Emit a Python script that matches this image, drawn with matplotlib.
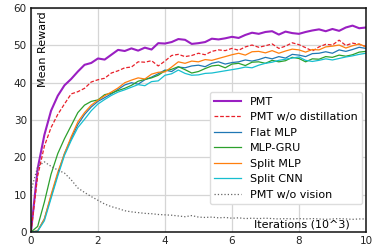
import matplotlib
matplotlib.use('Agg')
import matplotlib.pyplot as plt

# training iterations (x1000)
ITERS = [round(i * 0.2, 1) for i in range(51)]

PMT = [0, 17, 26, 32.5, 36.5, 39.3, 41, 43, 44.8, 45.3,
       46.5, 46.2, 47.5, 48.8, 48.5, 49.2, 48.6, 49.4, 48.9, 50.6,
       50.5, 50.9, 51.7, 51.5, 50.4, 50.6, 50.9, 51.8, 51.6, 51.9,
       52.3, 52.0, 52.8, 53.4, 53.1, 53.6, 53.8, 52.9, 53.7, 53.3,
       53.1, 53.6, 54.0, 54.3, 53.8, 54.4, 53.9, 54.8, 55.3, 54.6, 54.8]
PMT_NO_DISTILL = [0, 15, 23, 28, 31.5, 34.3, 37, 37.6, 38.5, 40.2,
                  40.8, 41.2, 42.6, 43.2, 44.0, 44.2, 45.6, 45.5, 45.9, 44.5,
                  45.8, 47.3, 47.6, 47.0, 47.3, 47.9, 47.5, 48.4, 48.8, 48.6,
                  49.2, 48.7, 49.6, 50.1, 49.5, 49.9, 50.4, 49.2, 49.8, 50.7,
                  50.2, 49.4, 48.5, 49.6, 50.3, 50.1, 51.4, 50.0, 50.6, 50.3, 49.7]
FLAT_MLP = [0, 0.3, 3.5, 9.5, 15.5, 21, 25, 28.8, 31.5, 33.5,
            35, 36, 37, 38.2, 39.4, 40.0, 39.6, 40.8, 41.5, 42.4,
            43.4, 43.0, 44.2, 44.0, 44.5, 44.7, 44.3, 45.2, 45.6, 45.0,
            45.4, 45.6, 46.1, 45.8, 46.2, 46.8, 46.4, 47.0, 46.6, 47.6,
            47.4, 47.0, 47.8, 47.9, 48.3, 47.9, 48.8, 48.4, 48.9, 49.5, 49.2]
MLP_GRU = [0, 1.5, 8, 15.5, 21, 25, 28.5, 32, 34, 35,
           35.4, 36.8, 37.2, 37.9, 38.5, 39.3, 40.4, 40.9, 41.3, 42.0,
           43.2, 43.6, 44.3, 43.5, 42.6, 43.0, 43.8, 44.5, 44.7, 44.0,
           45.0, 45.2, 44.6, 45.5, 45.6, 45.2, 46.0, 45.6, 45.9, 46.8,
           46.5, 45.6, 46.4, 46.3, 47.0, 46.8, 47.4, 47.1, 47.5, 48.2, 48.4]
SPLIT_MLP = [0, 0.3, 3.5, 10, 16, 21, 25.5, 29.5, 32, 34,
             35.3, 36.5, 37.5, 38.6, 40.0, 40.7, 41.3, 41.0, 42.3, 42.8,
             42.9, 44.2, 45.6, 45.2, 45.8, 45.6, 46.2, 46.0, 46.5, 47.0,
             47.5, 47.9, 47.4, 48.3, 48.4, 48.0, 48.6, 47.9, 48.5, 49.0,
             48.8, 48.2, 48.9, 48.8, 49.6, 49.8, 50.1, 49.3, 49.9, 50.4, 49.6]
SPLIT_CNN = [0, 0.2, 3, 9, 15, 20.5, 24.5, 28, 30.2, 32.5,
             34.3, 35.5, 36.6, 37.5, 38.1, 38.8, 39.5, 39.2, 40.3, 40.5,
             42.0, 42.4, 43.4, 42.5, 42.0, 42.1, 42.5, 42.6, 42.9, 43.2,
             43.5, 43.8, 44.2, 44.0, 44.7, 45.2, 45.5, 46.0, 46.3, 46.6,
             46.9, 46.0, 45.7, 46.0, 46.4, 46.1, 46.5, 46.9, 47.2, 47.6, 47.9]
PMT_NO_VISION = [11, 17.5, 18.8, 17.6, 16.6, 15.8, 14.0, 11.8, 10.6, 9.5,
                 8.5, 7.5, 6.8, 6.3, 5.7, 5.4, 5.2, 5.0, 4.9, 4.7,
                 4.6, 4.5, 4.3, 4.1, 4.4, 4.0, 3.9, 4.0, 3.8, 3.9,
                 3.7, 3.8, 3.6, 3.7, 3.6, 3.7, 3.6, 3.5, 3.6, 3.5,
                 3.6, 3.5, 3.6, 3.5, 3.4, 3.5, 3.6, 3.5, 3.4, 3.5, 3.5]

fig = plt.figure(figsize=(3.73, 2.45), dpi=100)
ax = fig.add_axes([0.083, 0.053, 0.898, 0.914])

ax.plot(ITERS, PMT, color='#9a1fc2', lw=1.5, label='PMT')
ax.plot(ITERS, PMT_NO_DISTILL, color='#e8202a', lw=0.9, ls='--', dashes=(3, 1.5),
        label='PMT w/o distillation')
ax.plot(ITERS, FLAT_MLP, color='#1f77b4', lw=0.9, label='Flat MLP')
ax.plot(ITERS, MLP_GRU, color='#2ca02c', lw=0.9, label='MLP-GRU')
ax.plot(ITERS, SPLIT_MLP, color='#ff7f0e', lw=0.9, label='Split MLP')
ax.plot(ITERS, SPLIT_CNN, color='#17becf', lw=0.9, label='Split CNN')
ax.plot(ITERS, PMT_NO_VISION, color='#666666', lw=0.9, ls=':', label='PMT w/o vision')

ax.set_xlim(0, 10)
ax.set_ylim(0, 60)
ax.set_xticks([0, 2, 4, 6, 8, 10])
ax.set_yticks([0, 10, 20, 30, 40, 50, 60])
ax.tick_params(labelsize=7.5, length=0, pad=3, colors='#222222')
ax.grid(color='#d5d5d5', lw=0.9)
for s in ax.spines.values():
    s.set_color('#111111')
    s.set_linewidth(1.1)

ax.text(0.036, 0.985, 'Mean Reward', transform=ax.transAxes, rotation=90,
        ha='center', va='top', fontsize=8)
ax.text(0.952, 0.012, 'Iterations (10^3)', transform=ax.transAxes,
        ha='right', va='bottom', fontsize=8)

leg = ax.legend(loc='upper right', bbox_to_anchor=(0.988, 0.625), fontsize=8,
                handlelength=2.4, borderaxespad=0, framealpha=1)
leg.get_frame().set_edgecolor('#dddddd')

fig.savefig('out.png', dpi=100)
